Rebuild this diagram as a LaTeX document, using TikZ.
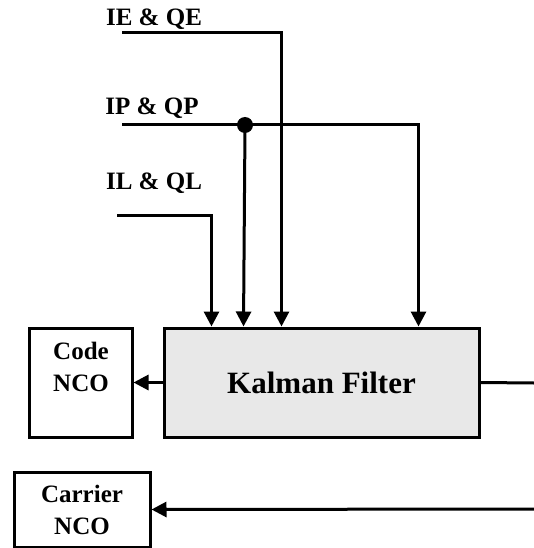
\documentclass[tikz,border=0pt]{standalone}
\usepackage{fontspec}
\setmainfont{Liberation Serif}
\usepackage{xcolor}
\definecolor{kfgray}{RGB}{232,232,232}
\usetikzlibrary{arrows.meta,positioning,calc}
\tikzset{
  blk/.style={draw, line width=3pt, fill=#1, inner sep=0pt},
  lbl/.style={font=\fontsize{25}{32}\selectfont\bfseries, align=center, inner sep=0pt},
  sig/.style={line width=3pt},
  sigarrow/.style={line width=3pt, -{Triangle[length=15pt, width=15pt]}},
}

\begin{document}
\begin{tikzpicture}[x=1pt, y=-1pt]
\useasboundingbox (0,0) rectangle (534,548);

% --- blocks ---
\node[blk=kfgray, minimum width=315pt, minimum height=109pt] (kf) at (321.5,382.5) {};
\node[lbl, font=\fontsize{31}{36}\selectfont\bfseries] (kftxt) at (kf.center) {Kalman Filter};

\node[blk=white, minimum width=103pt, minimum height=109pt] (code) at (80.5,382.5) {};
\node[lbl] (codetxt) at (81,367) {Code\\NCO};

\node[blk=white, minimum width=136pt, minimum height=75pt] (carr) at (82,509.5) {};
\node[lbl] (carrtxt) at (carr.center) {Carrier\\NCO};

% --- input labels ---
\node[lbl] (ietxt) at (154,19) {IE \& QE};
\node[lbl] (iptxt) at (152,108) {IP \& QP};
\node[lbl] (iltxt) at (154,183) {IL \& QL};

% --- input lines ---
\coordinate (ie) at (122,33);
\coordinate (ip) at (122,125);
\coordinate (il) at (117,215);
\coordinate (ipdot) at (245,125);

\draw[sigarrow] (il) -| ($(kf.north west)+(49,0)$);
\draw[sigarrow] (ie) -| ($(kf.north west)+(119,0)$);
\draw[sigarrow] (ip) -| ($(kf.north west)+(256,0)$);
\draw[sigarrow] (ipdot) -- ($(kf.north west)+(81,0)$);
\fill (ipdot) circle (8pt);

% --- outputs ---
\coordinate (kfout) at (534,383);
\coordinate (carrin) at (534,509);
\draw[sig] (kf.east) -- (kfout);
\draw[sigarrow] (kf.west) -- (code.east);
\draw[sigarrow] (carrin) -- (carr.east);

\end{tikzpicture}
\end{document}
